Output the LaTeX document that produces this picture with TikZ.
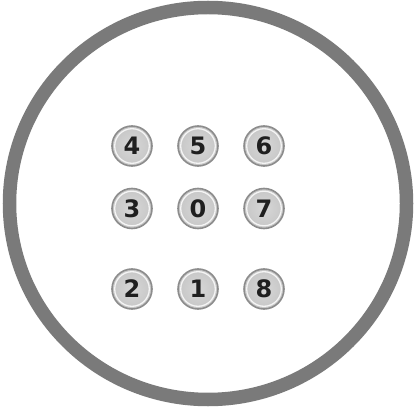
\documentclass[tikz,border=0pt]{standalone}
\usepackage{fontspec}
\newfontfamily\keyfont{DejaVu Sans}
\definecolor{ringgray}{RGB}{122,122,122}
\definecolor{keyedge}{RGB}{140,140,140}
\definecolor{keyfill}{RGB}{198,198,198}
\definecolor{keyin}{RGB}{215,215,215}
\tikzset{
  keybtn/.style={circle, minimum size=40pt, inner sep=0pt, draw=keyedge, line width=1.6pt,
    inner color=keyin, outer color=keyfill},
  keyhl/.style={draw=white!92!gray, line width=1.3pt},
  keydigit/.style={font=\keyfont\bfseries\fontsize{24}{24}\selectfont, text=black!88, inner sep=0pt}
}
\begin{document}
\begin{tikzpicture}[x=1pt,y=1pt]
\useasboundingbox (0,0) rectangle (414,407);
\fill[white] (0,0) rectangle (414,407);
\draw[ringgray, line width=13.5pt] (208,203.5) ellipse [x radius=198.5, y radius=196];
\foreach \n/\x/\y/\d in {k4/132/261/4, k5/198/261/5, k6/264/261/6,
                      k3/132/198.5/3, k0/198/198.5/0, k7/264/198.5/7,
                      k2/132/118/2, k1/198/118/1, k8/264/118/8}{
  \node[keybtn] (\n) at (\x,\y) {};
  \draw[keyhl] (\n.center) circle (17.3);
  \node[keydigit] (t\n) at (\n.center) {\d};
}
\end{tikzpicture}
\end{document}
